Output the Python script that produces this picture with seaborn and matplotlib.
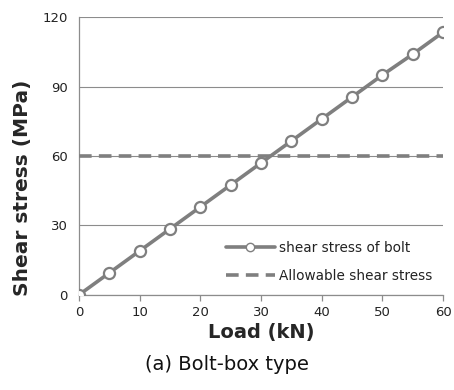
import numpy as np
import pandas as pd
import matplotlib
matplotlib.use('Agg')
import matplotlib.pyplot as plt
import seaborn as sns

# 데이터
load_kn = [0, 5, 10, 15, 20, 25, 30, 35, 40, 45, 50, 55, 60]
shear_stress = [0, 9.5, 19, 28.5, 38, 47.5, 57, 66.5, 76, 85.5, 95, 104, 113.5]
allowable = 60
x_ticks = [0, 10, 20, 30, 40, 50, 60]
y_ticks = [0, 30, 60, 90, 120]

sns.set_theme(style='white')
plt.rcParams['font.family'] = ['DejaVu Sans']

gray = '#7f7f7f'
fig = plt.figure(figsize=(4.54, 3.90), dpi=100)
ax = fig.add_axes([0.174, 0.244, 0.802, 0.712])

df = pd.DataFrame({'load': load_kn, 'stress': shear_stress})
sns.lineplot(data=df, x='load', y='stress', ax=ax, color=gray, linewidth=2.6,
             marker='o', markersize=8, markerfacecolor='white',
             markeredgecolor=gray, markeredgewidth=1.6,
             label='shear stress of bolt', zorder=4)
ax.axhline(allowable, color=gray, linewidth=2.6, linestyle=(0, (3.5, 2)),
           label='Allowable shear stress', zorder=3)

ax.set_xlim(0, 60)
ax.set_ylim(0, 120)
ax.set_xticks(x_ticks)
ax.set_yticks(y_ticks)
ax.set_xticklabels([str(t) for t in x_ticks], fontsize=9.5, color='#222222')
ax.set_yticklabels([str(t) for t in y_ticks], fontsize=9.5, color='#222222')
ax.yaxis.grid(True, color='#8c8c8c', linewidth=0.8)
ax.xaxis.grid(False)
for s in ['top', 'right']:
    ax.spines[s].set_visible(False)
for s in ['left', 'bottom']:
    ax.spines[s].set_color('#8c8c8c')
    ax.spines[s].set_linewidth(0.9)
ax.tick_params(axis='x', length=4, width=0.9, color='#8c8c8c', direction='out',
               bottom=True, pad=4)
ax.tick_params(axis='y', length=0, pad=8)
for lbl in ax.get_xticklabels() + ax.get_yticklabels():
    lbl.set_clip_on(False)

ax.set_xlabel('Load (kN)', fontsize=14, fontweight='bold', labelpad=3)
ax.set_ylabel('Shear stress (MPa)', fontsize=14.5, fontweight='bold')
ax.yaxis.set_label_coords(-0.13, 0.385)

leg = ax.legend(loc='lower right', bbox_to_anchor=(1.005, 0.0), frameon=False,
                fontsize=9.8, handlelength=3.6, handletextpad=0.35,
                labelspacing=1.0, labelcolor='#222222')
leg.legend_handles[0].set_markersize(6)
leg.legend_handles[0].set_markeredgewidth(1.0)

fig.text(0.5, 0.065, '(a) Bolt-box type', ha='center', va='center',
         fontsize=14, color='#111111')

plt.savefig('out.png', dpi=100)
